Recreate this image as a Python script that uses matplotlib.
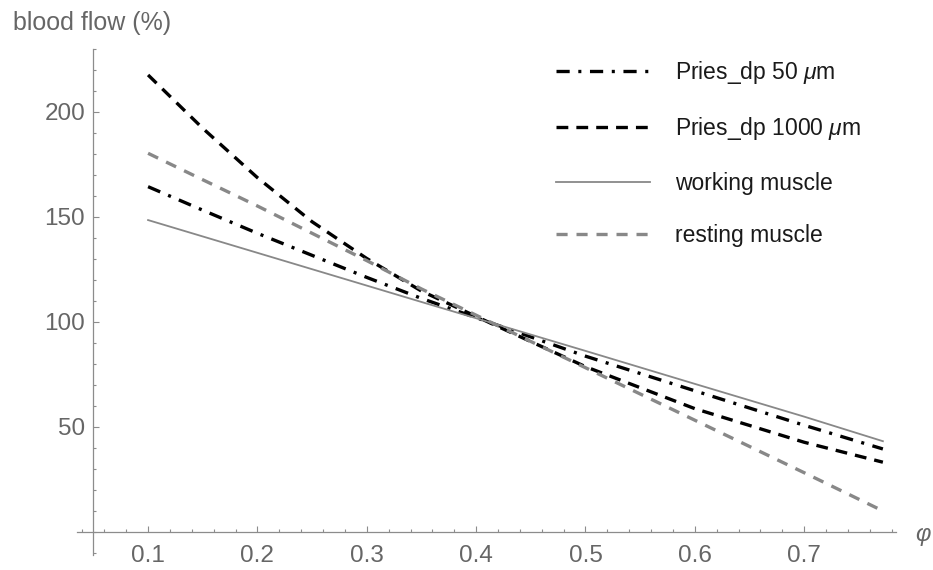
import matplotlib
matplotlib.use("Agg")
import matplotlib.pyplot as plt
from matplotlib.ticker import MultipleLocator

plt.rcParams['font.family'] = ['Liberation Sans', 'DejaVu Sans']
plt.rcParams['mathtext.fontset'] = 'custom'
plt.rcParams['mathtext.rm'] = 'Liberation Sans'
plt.rcParams['mathtext.it'] = 'Liberation Sans:italic'
plt.rcParams['lines.scale_dashes'] = False

# data
phi = [0.1, 0.15, 0.2, 0.25, 0.3, 0.35, 0.41, 0.5, 0.6, 0.7, 0.772]
pries_50 = [164.2, 153, 142, 131.5, 121, 111, 100, 83.5, 67, 50.6, 39.3]
pries_1000 = [217.4, 192, 168.5, 147.5, 130, 114.5, 100, 78.5, 58.5, 42.5, 33]
working = [148.3, 140.5, 132.7, 124.9, 117.1, 109.3, 100, 86, 70.3, 54.7, 43]
resting = [180.1, 167.5, 155, 142, 129, 115.5, 100.5, 78, 53, 28, 9.8]

labels = [r'Pries_dp 50 $\mu$m', r'Pries_dp 1000 $\mu$m',
          'working muscle', 'resting muscle']

axis_gray = '#8c8c8c'
text_gray = '#666666'

fig = plt.figure(figsize=(9.33, 5.70), dpi=100)
ax = fig.add_axes([77/933, 1 - 554.6/570, 819/933, (554.6 - 48.5)/570])

ax.plot(phi, pries_50, color='black', lw=2.4, solid_capstyle='butt',
        dash_capstyle='butt', linestyle=(0, (9.5, 6.2, 2.2, 6.2)), label=labels[0])
ax.plot(phi, pries_1000, color='black', lw=2.4, dash_capstyle='butt',
        linestyle=(0, (8.5, 5.8)), label=labels[1])
ax.plot(phi, working, color='#888888', lw=1.3, label=labels[2])
ax.plot(phi, resting, color='#888888', lw=2.4, dash_capstyle='butt',
        linestyle=(0, (8, 6.4)), label=labels[3])

ax.set_xlim(0.035, 0.784)
ax.set_ylim(-11, 230)

for s in ['top', 'right']:
    ax.spines[s].set_visible(False)
ax.spines['left'].set_position(('data', 0.05))
ax.spines['bottom'].set_position(('data', 0))
for s in ['left', 'bottom']:
    ax.spines[s].set_color(axis_gray)
    ax.spines[s].set_linewidth(0.9)

ax.xaxis.set_minor_locator(MultipleLocator(0.02))
ax.yaxis.set_minor_locator(MultipleLocator(10))
ax.set_xticks([0.1, 0.2, 0.3, 0.4, 0.5, 0.6, 0.7])
ax.set_xticklabels(['0.1', '0.2', '0.3', '0.4', '0.5', '0.6', '0.7'])
ax.set_yticks([50, 100, 150, 200])
ax.set_yticklabels(['50', '100', '150', '200'])

ax.tick_params(which='both', direction='in', color=axis_gray, width=0.8,
               labelcolor=text_gray, labelsize=17.5)
ax.tick_params(which='major', length=4.5)
ax.tick_params(which='minor', length=2.5)
ax.tick_params(axis='x', which='major', pad=10)
ax.tick_params(axis='y', which='major', pad=6)

fig.text(13/933, 1 - 23/570, 'blood flow (%)', color=text_gray,
         fontsize=18, ha='left', va='center')
ax.text(0.8018, -1.5, 'φ', fontsize=17, color=text_gray, ha='left', va='center',
        style='italic', clip_on=False)

leg = ax.legend(loc='upper left', bbox_to_anchor=(556/933, 1 - 59/570),
                bbox_transform=fig.transFigure, frameon=False, fontsize=16.5,
                handlelength=4.1, handletextpad=1.1, labelspacing=1.28,
                borderpad=0, borderaxespad=0)
for t in leg.get_texts():
    t.set_color('#1a1a1a')

fig.savefig('out.png', dpi=100)
